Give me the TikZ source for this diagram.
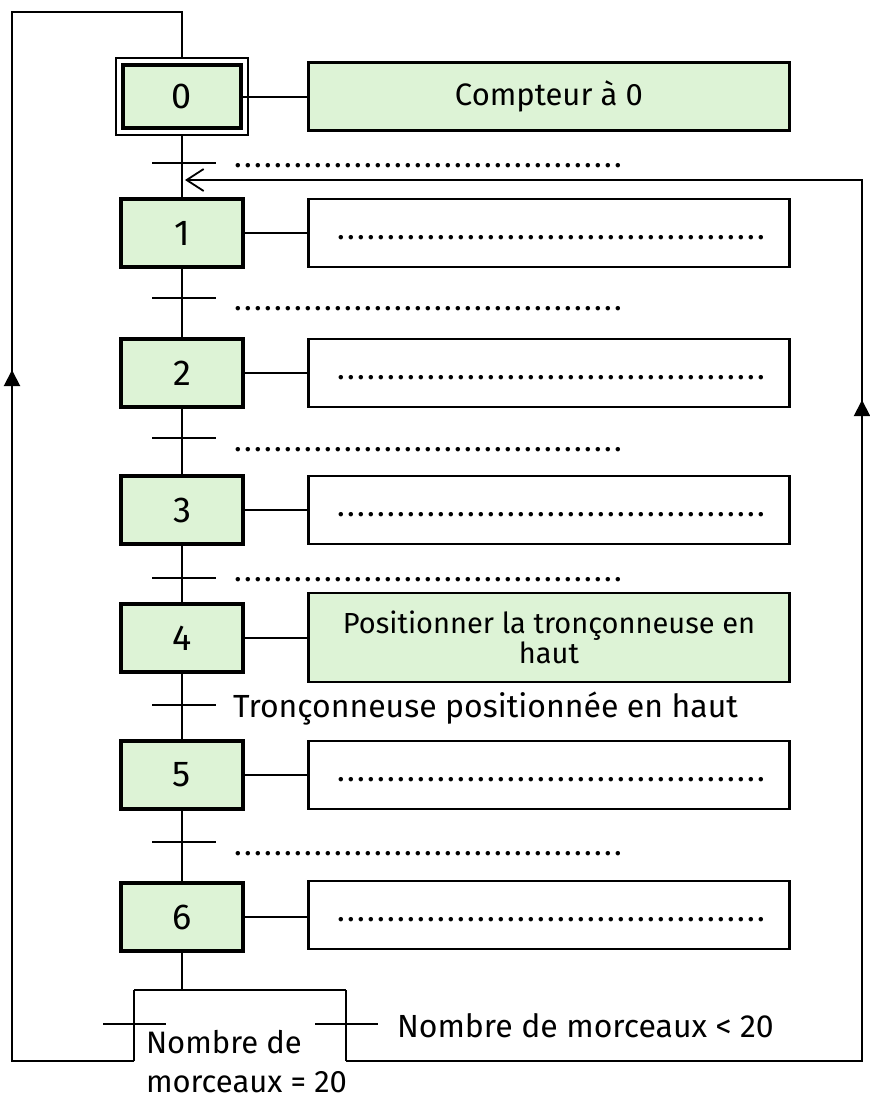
\documentclass[tikz,border=0pt]{standalone}
\usepackage{fontspec}
\setmainfont{Fira Sans}
\usetikzlibrary{arrows.meta}
\definecolor{stepgreen}{RGB}{221,243,214}
\newcommand\dotline[1]{\hbox to #1{\leaders\hbox to 10pt{\hss.\hss}\hfill}}
\begin{document}
\begin{tikzpicture}[x=1pt,y=-1pt,line width=2pt,
  stepbox/.style={draw,line width=4pt,fill=stepgreen,minimum width=122pt,minimum height=68pt,inner sep=0pt,font=\fontsize{36}{40}\selectfont},
  actbox/.style={draw,line width=2.5pt,minimum width=481pt,minimum height=68pt,inner sep=0pt,align=center,font=\fontsize{29}{30}\selectfont},
  lbl/.style={anchor=base west,inner sep=0pt,font=\fontsize{32}{40}\selectfont,align=left},
  dotlbl/.style={anchor=base west,inner sep=0pt,font=\fontsize{32}{36}\selectfont},
  trbar/.style={line width=2pt},
  flow/.style={line width=2pt}
]
\useasboundingbox (0,0) rectangle (870,1101);

% steps
\node[stepbox,line width=3.5pt,minimum width=118pt,minimum height=63pt] (s0) at (182,96.5) {0};
\coordinate (s0o1) at ([shift={(-5,-5)}]s0.north west);
\coordinate (s0o2) at ([shift={(5,5)}]s0.south east);
\draw[line width=2pt] (s0o1) rectangle (s0o2);
\coordinate (s0top) at (s0o1 -| s0.north);
\node[stepbox] (s1) at (182,233) {1};
\node[stepbox] (s2) at (182,373) {2};
\node[stepbox] (s3) at (182,510) {3};
\node[stepbox] (s4) at (182,638) {4};
\node[stepbox] (s5) at (182,775) {5};
\node[stepbox] (s6) at (182,917) {6};

% actions
\node[actbox,fill=stepgreen,font=\fontsize{31}{32}\selectfont] (a0) at (549,96.5) {Compteur à 0};
\node[actbox] (a1) at (549,233) {};
\node[actbox] (a2) at (549,373) {};
\node[actbox] (a3) at (549,510) {};
\node[actbox,fill=stepgreen,minimum height=89pt] (a4) at (549,637.5) {Positionner la tronçonneuse en\\haut};
\node[actbox] (a5) at (549,775) {};
\node[actbox] (a6) at (549,915) {};

\node[dotlbl] (d1) at (335,239) {\dotline{432pt}};
\node[dotlbl] (d2) at (335,379) {\dotline{432pt}};
\node[dotlbl] (d3) at (335,516) {\dotline{432pt}};
\node[dotlbl] (d5) at (335,781) {\dotline{432pt}};
\node[dotlbl] (d6) at (335,921) {\dotline{432pt}};

\foreach \i in {0,...,6}{\draw[flow] (s\i.east) -- (s\i.east -| a\i.west);}

% main line
\coordinate (div) at (182,990);
\draw[flow] (s0o2 -| s0.south) -- (s1);
\draw[flow] (s1) -- (s2);
\draw[flow] (s2) -- (s3);
\draw[flow] (s3) -- (s4);
\draw[flow] (s4) -- (s5);
\draw[flow] (s5) -- (s6);
\draw[flow] (s6.south) -- (div);

% transitions
\foreach \n/\y in {t01/163,t12/298,t23/438,t34/578,t45/705,t56/842}{
  \coordinate (\n l) at (152,\y); \coordinate (\n r) at (216,\y);
  \draw[trbar] (\n l) -- (\n r);
}
\node[dotlbl] (l01) at (232,167) {\dotline{393pt}};
\node[dotlbl] (l12) at (232,310) {\dotline{393pt}};
\node[dotlbl] (l23) at (232,451) {\dotline{393pt}};
\node[dotlbl] (l34) at (232,581) {\dotline{393pt}};
\node[lbl] (l45) at (232,717) {Tronçonneuse positionnée en haut};
\node[dotlbl] (l56) at (232,855) {\dotline{393pt}};

% divergence
\coordinate (bl) at (134,990);
\coordinate (br) at (346,990);
\coordinate (blb) at (134,1061);
\coordinate (brb) at (346,1061);
\draw[flow] (bl) -- (br);
\draw[flow] (bl) -- (blb);
\draw[flow] (br) -- (brb);
\coordinate (tll) at (103,1024); \coordinate (tlr) at (166,1024);
\coordinate (trl) at (315,1024); \coordinate (trr) at (378,1024);
\draw[trbar] (tll) -- (tlr);
\draw[trbar] (trl) -- (trr);
\node[lbl,font=\fontsize{31}{39}\selectfont] (leq) at (145,1092) {Nombre de\\morceaux = 20};
\node[lbl] (llt) at (396,1037) {Nombre de morceaux < 20};

% left loop back to step 0
\coordinate (lc1) at (12,1061);
\coordinate (lc2) at (12,12);
\coordinate (lc3) at (182,12);
\draw[flow] (blb) -- (lc1) -- (lc2) -- (lc3) -- (s0top);
\coordinate (la1) at (12,392);
\coordinate (la2) at (12,370);
\draw[flow,-{Triangle[length=16pt,width=16pt]}] (la1) -- (la2);

% right loop back to step 1
\coordinate (rc1) at (862,1061);
\coordinate (rc2) at (862,180);
\coordinate (rin) at (185,180);
\draw[flow,-{Straight Barb[length=17pt,width=22pt,line width=1.8pt]}] (brb) -- (rc1) -- (rc2) -- (rin);
\coordinate (ra1) at (862,422);
\coordinate (ra2) at (862,400);
\draw[flow,-{Triangle[length=16pt,width=16pt]}] (ra1) -- (ra2);
\end{tikzpicture}
\end{document}
